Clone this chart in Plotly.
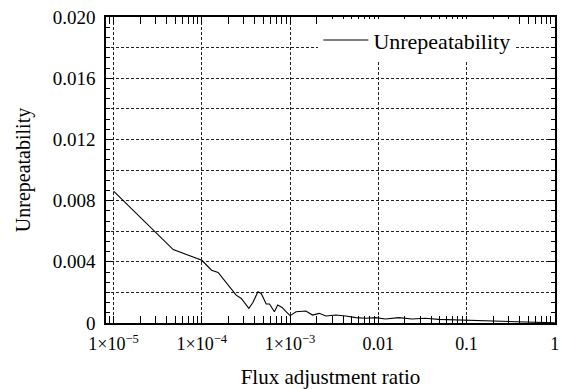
import plotly.graph_objects as go

# Data
flux_ratio = [1.0e-5, 4.74e-5, 1.0e-4, 1.29e-4, 1.53e-4, 2.45e-4, 2.80e-4, 3.41e-4,
              3.78e-4, 4.32e-4, 4.71e-4, 5.37e-4, 5.85e-4, 6.65e-4, 7.24e-4, 8.13e-4,
              9.02e-4, 1.0e-3, 1.17e-3, 1.51e-3, 1.80e-3, 2.14e-3, 2.55e-3, 3.30e-3,
              4.28e-3, 5.55e-3, 7.19e-3, 9.33e-3, 0.0121, 0.0171, 0.0241, 0.0341,
              0.0482, 0.0811, 0.136, 0.229, 0.385, 0.647, 1.0]
unrepeatability = [0.00862, 0.0048, 0.0041, 0.00345, 0.0033, 0.00182, 0.0016, 0.00096,
                   0.00132, 0.00204, 0.00193, 0.00124, 0.00124, 0.00074, 0.00117, 0.00102,
                   0.00074, 0.00048, 0.00074, 0.00078, 0.00052, 0.00063, 0.00046, 0.00052,
                   0.00046, 0.00035, 0.00031, 0.00035, 0.00026, 0.00035, 0.00026, 0.00031,
                   0.00024, 0.0002, 0.00015, 0.00013, 0.00009, 0.00003, 0.00001]

x_tickvals = [1e-5, 1e-4, 1e-3, 1e-2, 1e-1, 1]
x_ticktext = ["1×10<sup>−5</sup>", "1×10<sup>−4</sup>", "1×10<sup>−3</sup>", "0.01", "0.1", "1"]
x_minor_vals = [m * d for d in [1e-6, 1e-5, 1e-4, 1e-3, 1e-2, 1e-1] for m in range(2, 10)]
y_tickvals = [0, 0.004, 0.008, 0.012, 0.016, 0.020]
y_ticktext = ["0", "0.004", "0.008", "0.012", "0.016", "0.020"]
y_midgrid = [0.002, 0.006, 0.010, 0.014, 0.018]

FONT = "Liberation Serif, Times New Roman, serif"
GRID = "#222222"
DASH = "3px,2px"

fig = go.Figure()
fig.add_trace(go.Scatter(x=flux_ratio, y=unrepeatability, mode="lines",
                         name="Unrepeatability",
                         line=dict(color="black", width=1.1)))
# invisible trace on overlay axis that carries the intermediate grid lines
fig.add_trace(go.Scatter(x=[flux_ratio[0]], y=[0], yaxis="y2", mode="lines",
                         showlegend=False, hoverinfo="skip",
                         line=dict(color="rgba(0,0,0,0)")))

fig.update_layout(
    width=562, height=389,
    margin=dict(l=106, r=7, t=17, b=66, autoexpand=False),
    paper_bgcolor="white", plot_bgcolor="white",
    font=dict(family=FONT, size=18, color="black"),
    showlegend=True,
    legend=dict(x=0.473, y=0.993, xanchor="left", yanchor="top",
                bgcolor="white", borderwidth=0, itemwidth=45,
                font=dict(family=FONT, size=22, color="black")),
    xaxis=dict(
        type="log", range=[-5.086, 0.003], automargin=False,
        tickvals=x_tickvals, ticktext=x_ticktext,
        ticks="inside", ticklen=7, tickwidth=1.2, tickcolor="black",
        showline=True, linecolor="black", linewidth=1.6, mirror="allticks",
        showgrid=True, gridcolor=GRID, griddash=DASH, gridwidth=1,
        zeroline=False,
        minor=dict(tickmode="array", tickvals=x_minor_vals, ticks="inside", ticklen=4,
                   tickwidth=1, tickcolor="black", showgrid=False),
        title=dict(text="Flux adjustment ratio", standoff=16,
                   font=dict(family=FONT, size=21)),
        tickfont=dict(family=FONT, size=18),
        ticklabelstandoff=4,
    ),
    yaxis=dict(
        range=[0, 0.020], automargin=False,
        tickvals=y_tickvals, ticktext=y_ticktext,
        ticks="inside", ticklen=7, tickwidth=1.2, tickcolor="black",
        showline=True, linecolor="black", linewidth=1.6, mirror="allticks",
        showgrid=True, gridcolor=GRID, griddash=DASH, gridwidth=1,
        zeroline=False,
        minor=dict(tickmode="linear", tick0=0, dtick=0.004 / 6, ticks="inside", ticklen=4,
                   tickwidth=1, tickcolor="black", showgrid=False),
        title=dict(text="Unrepeatability", standoff=17,
                   font=dict(family=FONT, size=20)),
        tickfont=dict(family=FONT, size=19),
        ticklabelstandoff=5,
    ),
    yaxis2=dict(
        overlaying="y", range=[0, 0.020], tickvals=y_midgrid, automargin=False,
        showticklabels=False, ticks="", showline=False, zeroline=False,
        showgrid=True, gridcolor=GRID, griddash=DASH, gridwidth=1,
    ),
)

fig.write_html("out.html",
               config={"displayModeBar": False},
               post_script="document.body.style.margin='0';document.body.style.overflow='hidden';")
